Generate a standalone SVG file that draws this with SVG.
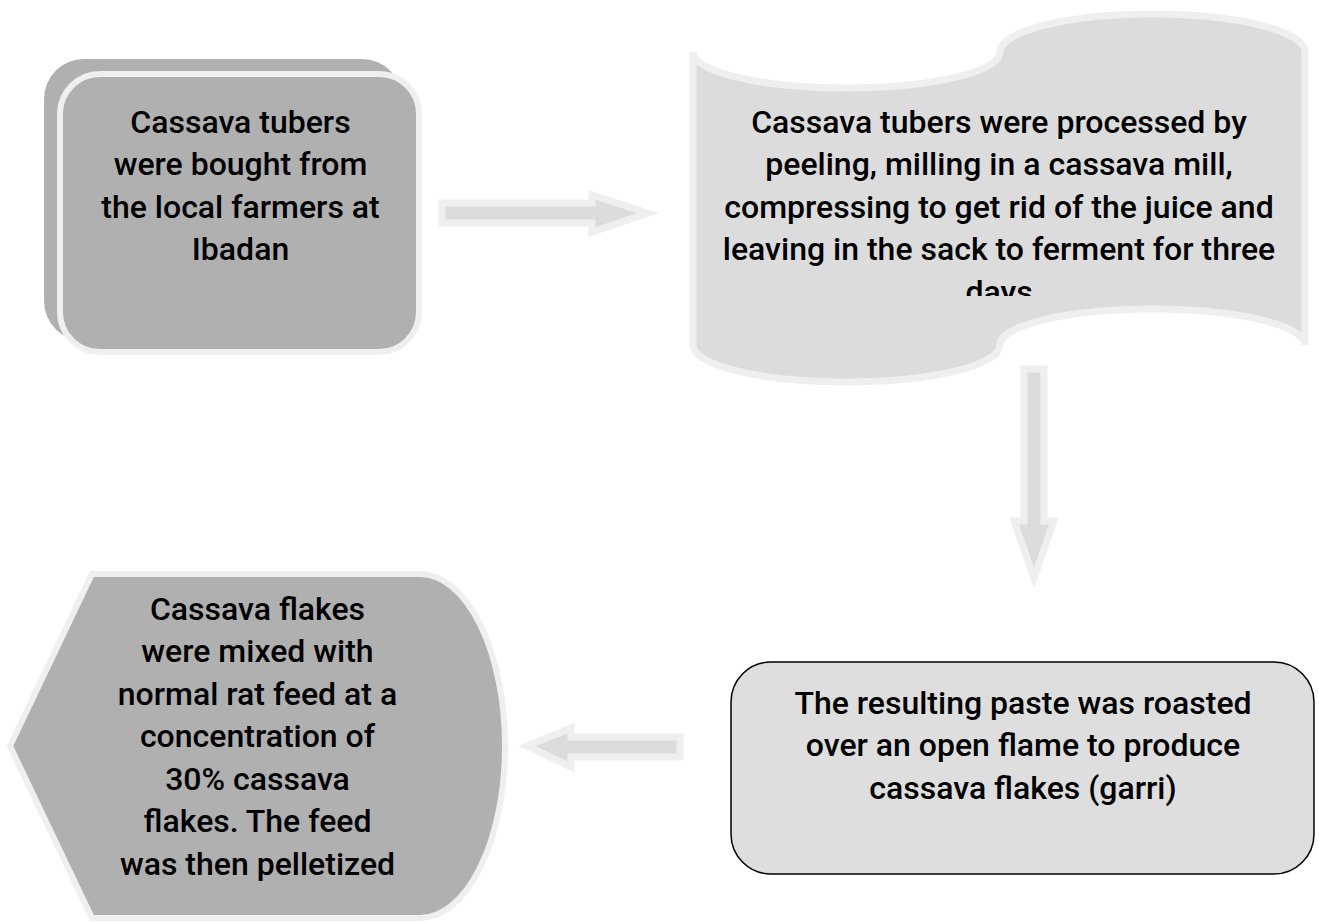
<svg xmlns="http://www.w3.org/2000/svg" width="1319" height="922" viewBox="0 0 1319 922">
<defs>
<style>
.t{font-family:Roboto,"Liberation Sans",sans-serif;font-size:32px;font-weight:500;fill:#000;text-anchor:middle}
.dark{fill:#b0b0b0;stroke:#efefef;stroke-width:6}
.arr{fill:#dcdcdc;stroke:#efefef;stroke-width:7;stroke-linejoin:miter}
</style>
<clipPath id="clip2"><rect x="690" y="0" width="620" height="296"/></clipPath>
</defs>
<rect width="1319" height="922" fill="#fff"/>
<g id="connectors">
<polygon class="arr" points="442,203 592,203 592,195 648,213 592,232 592,223 442,223"/>
<polygon class="arr" points="1024,369 1044,369 1044,521 1054,521 1034,578 1014,521 1024,521"/>
<polygon class="arr" points="680,737 571,737 571,728 527,746 571,767 571,757 680,757"/>
</g>
<g id="node1">
<rect x="44" y="59" width="358" height="282" rx="40" fill="#b0b0b0"/>
<rect class="dark" x="60" y="74" width="359" height="278" rx="40"/>
<text class="t" x="240.5" y="132.5">Cassava tubers</text>
<text class="t" x="240.5" y="175">were bought from</text>
<text class="t" x="240.5" y="217.5">the local farmers at</text>
<text class="t" x="240.5" y="260">Ibadan</text>
</g>
<g id="node2">
<path d="M693,52 A153.5,36 0 0 0 1000,52 A152.5,38 0 0 1 1305,52 L1305,345 A152.5,36 0 0 0 1000,345 A153.5,37 0 0 1 693,345 Z" fill="#dcdcdc" stroke="#efefef" stroke-width="7"/>
<g clip-path="url(#clip2)">
<text class="t" x="999" y="132.5">Cassava tubers were processed by</text>
<text class="t" x="999" y="175">peeling, milling in a cassava mill,</text>
<text class="t" x="999" y="217.5">compressing to get rid of the juice and</text>
<text class="t" x="999" y="260">leaving in the sack to ferment for three</text>
<text class="t" x="999" y="302.5">days</text>
</g>
</g>
<g id="node3">
<path class="dark" d="M92,574 L420,574 A85,172 0 0 1 420,918 L92,918 L10,746 Z"/>
<text class="t" x="257.5" y="619.5">Cassava flakes</text>
<text class="t" x="257.5" y="662">were mixed with</text>
<text class="t" x="257.5" y="704.5">normal rat feed at a</text>
<text class="t" x="257.5" y="747">concentration of</text>
<text class="t" x="257.5" y="789.5">30% cassava</text>
<text class="t" x="257.5" y="832">flakes. The feed</text>
<text class="t" x="257.5" y="874.5">was then pelletized</text>
</g>
<g id="node4">
<rect x="731" y="662" width="583" height="212" rx="40" fill="#dedede" stroke="#000" stroke-width="1.5"/>
<text class="t" x="1023" y="713.5">The resulting paste was roasted</text>
<text class="t" x="1023" y="756">over an open flame to produce</text>
<text class="t" x="1023" y="798.5">cassava flakes (garri)</text>
</g>
</svg>
